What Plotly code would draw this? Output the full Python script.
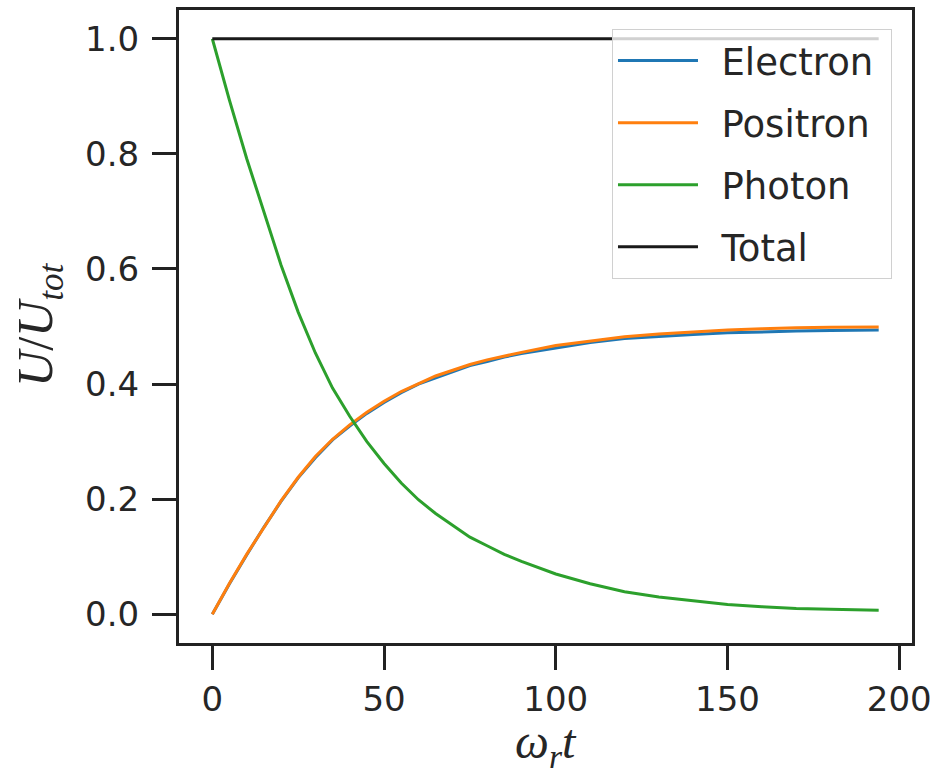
import plotly.graph_objects as go

# time axis (omega_r t)
t = [0, 5, 10, 15, 20, 25, 30, 35, 40, 45, 50, 55, 60, 65, 70, 75, 80, 85, 90,
     100, 110, 120, 130, 140, 150, 160, 170, 180, 194]

photon = [1.000, 0.893, 0.792, 0.698, 0.607, 0.525, 0.454, 0.393, 0.344, 0.300,
          0.262, 0.228, 0.199, 0.175, 0.154, 0.134, 0.119, 0.104, 0.092,
          0.070, 0.053, 0.039, 0.030, 0.023, 0.017, 0.013, 0.010, 0.0085, 0.007]

electron = [0.000, 0.053, 0.103, 0.151, 0.196, 0.237, 0.272, 0.303, 0.327, 0.349,
            0.368, 0.385, 0.400, 0.411, 0.422, 0.432, 0.439, 0.447, 0.453,
            0.463, 0.472, 0.479, 0.483, 0.486, 0.489, 0.491, 0.492, 0.493, 0.494]

positron = [0.000, 0.054, 0.104, 0.151, 0.197, 0.238, 0.274, 0.304, 0.329, 0.351,
            0.370, 0.387, 0.401, 0.414, 0.424, 0.434, 0.442, 0.449, 0.455,
            0.467, 0.475, 0.482, 0.487, 0.491, 0.494, 0.496, 0.498, 0.4985, 0.499]

total = [1.0] * len(t)

x_ticks = [0, 50, 100, 150, 200]
y_ticks = [0.0, 0.2, 0.4, 0.6, 0.8, 1.0]
y_tick_labels = ["0.0", "0.2", "0.4", "0.6", "0.8", "1.0"]

series = [
    ("Electron", electron, "#1f77b4"),
    ("Positron", positron, "#ff7f0e"),
    ("Photon", photon, "#2ca02c"),
    ("Total", total, "#1a1a1a"),
]

fig = go.Figure()
for name, vals, color in series:
    fig.add_trace(go.Scatter(
        x=t, y=vals, mode="lines", name="\u2002" + name + "\u00a0", legendgroup=name,
        line=dict(color=color, width=3),
    ))

tick_font = dict(family="DejaVu Sans", size=34, color="#262626")
axis_common = dict(
    showgrid=False, zeroline=False, showline=True, mirror=True,
    linecolor="#222222", linewidth=3,
    ticks="outside", ticklen=24, tickwidth=3, tickcolor="#222222",
    tickfont=tick_font,
)

fig.update_xaxes(range=[-9.7, 203.7], tickvals=x_ticks, ticklabelstandoff=0, **axis_common)
fig.update_yaxes(range=[-0.05, 1.05], tickvals=y_ticks, ticktext=y_tick_labels,
                 ticklabelstandoff=6, **axis_common)

title_font = dict(family="Liberation Serif", size=48, color="#262626")
fig.add_annotation(
    text="<i>U</i>/<i>U</i><sub><i>tot</i></sub>", xref="paper", yref="paper",
    x=-0.19, y=0.502, showarrow=False, textangle=-90,
    font=dict(family="Liberation Serif", size=50, color="#262626"),
    xanchor="center", yanchor="middle",
)
fig.add_annotation(
    text="<i>ω</i><sub><i>r</i></sub><i>t</i>", xref="paper", yref="paper",
    x=0.5, y=-0.161, showarrow=False, font=title_font,
    xanchor="center", yanchor="middle",
)

fig.update_layout(
    width=937, height=776,
    margin=dict(l=179, r=25, t=10, b=133, autoexpand=False),
    paper_bgcolor="white", plot_bgcolor="white",
    showlegend=True,
    legend=dict(
        x=0.9727, y=0.970, xanchor="right", yanchor="top",
        bgcolor="rgba(255,255,255,0.8)", bordercolor="#d0d0d0", borderwidth=1,
        font=dict(family="DejaVu Sans", size=37, color="#262626"),
        traceorder="grouped", tracegroupgap=11, itemwidth=80,
    ),
)

fig.write_html(
    "out.html",
    config={"displayModeBar": False},
    post_script="document.body.style.margin='0';document.body.style.padding='0';",
)
